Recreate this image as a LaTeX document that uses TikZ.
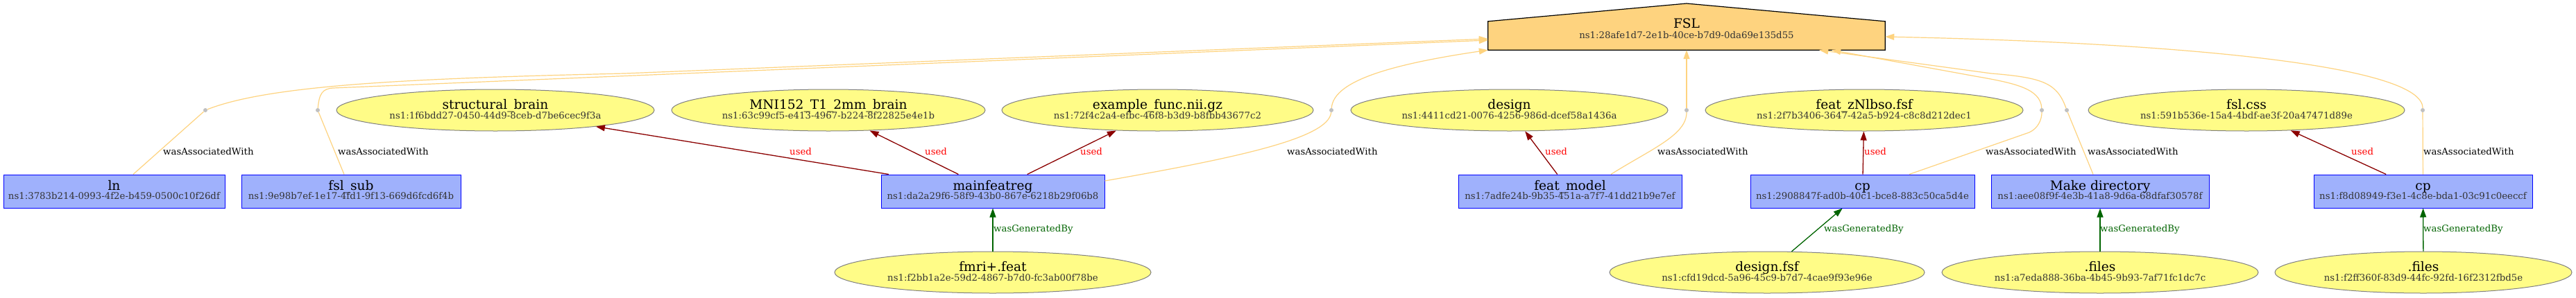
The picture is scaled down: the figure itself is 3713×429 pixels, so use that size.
\documentclass[tikz,border=0pt]{standalone}
\usepackage{fontspec}
\setmainfont{DejaVu Serif}
\usetikzlibrary{arrows.meta,calc,shapes.geometric}
\definecolor{agentfill}{HTML}{FED37F}
\definecolor{actfill}{HTML}{9FB1FC}
\definecolor{actline}{HTML}{0000FF}
\definecolor{entfill}{HTML}{FFFC87}
\definecolor{entline}{HTML}{808080}
\definecolor{usedc}{HTML}{8B0000}
\definecolor{usedtext}{HTML}{FF0000}
\definecolor{genc}{HTML}{006400}
\definecolor{assocc}{HTML}{FED37F}
\definecolor{dotc}{HTML}{C0C0C0}
\definecolor{idtext}{HTML}{333333}
\newcommand\mainfs{\fontsize{18.6}{20}\selectfont}
\newcommand\idfs{\fontsize{13.3}{15}\selectfont}
\tikzset{
 entity/.style={ellipse, draw=entline, fill=entfill, line width=1pt, inner sep=0pt, minimum height=60pt},
 activity/.style={rectangle, draw=actline, fill=actfill, line width=1pt, inner sep=0pt, minimum height=48pt},
 mainlab/.style={anchor=base, inner sep=0pt, font=\mainfs},
 idlab/.style={anchor=base, inner sep=0pt, font=\idfs, text=idtext},
 blank/.style={circle, fill=dotc, inner sep=0pt, minimum size=6pt},
 elab/.style={anchor=west, inner sep=0pt, font=\idfs, text height=9.5pt, text depth=2.5pt},
 usedlab/.style={elab, text=usedtext},
 genlab/.style={elab, text=genc},
 tipstyle/.style={-{Triangle[length=13pt,width=9pt]}},
 usededge/.style={draw=usedc, line width=1.3pt, tipstyle},
 genedge/.style={draw=genc, line width=1.3pt, tipstyle},
 assoc/.style={draw=assocc, line width=1.2pt},
 assocarrow/.style={assoc, tipstyle},
}
\newcommand\nodetext[4]{%
 \node[mainlab] (#1-main) at ([yshift=2pt]#1.center) {#2};
 \node[idlab] (#1-id) at ([yshift=-#4]#1.center) {#3};}
\begin{document}
\begin{tikzpicture}[x=1pt,y=-1pt]
\useasboundingbox (0,0) rectangle (3713,429);
\fill[white] (0,0) rectangle (3713,429);

% agent
\node[rectangle, inner sep=0pt, minimum width=572pt, minimum height=41pt] (fsl) at (2431,51.5) {};
\coordinate (apex) at (2431,5);
\filldraw[fill=agentfill, draw=black, line width=1.2pt] (fsl.south west) -- (fsl.north west) -- (apex) -- (fsl.north east) -- (fsl.south east) -- cycle;
\node[mainlab] (fsl-main) at (2431,40) {FSL};
\node[idlab] (fsl-id) at (2431,55.3) {ns1:28afe1d7-2e1b-40ce-b7d9-0da69e135d55};

% activities
\node[activity, minimum width=319pt] (ln) at (164.5,276) {};
\node[activity, minimum width=316pt] (fslsub) at (506,276) {};
\node[activity, minimum width=322pt] (mainfeatreg) at (1431,276) {};
\node[activity, minimum width=322pt] (featmodel) at (2263,276) {};
\node[activity, minimum width=323pt] (cpa) at (2684.5,276) {};
\node[activity, minimum width=314pt] (mkdir) at (3027,276) {};
\node[activity, minimum width=315pt] (cpb) at (3492.5,276) {};
\nodetext{ln}{ln}{ns1:3783b214-0993-4f2e-b459-0500c10f26df}{11.5pt}
\nodetext{fslsub}{fsl\_sub}{ns1:9e98b7ef-1e17-4fd1-9f13-669d6fcd6f4b}{11.5pt}
\nodetext{mainfeatreg}{mainfeatreg}{ns1:da2a29f6-58f9-43b0-867e-6218b29f06b8}{11.5pt}
\nodetext{featmodel}{feat\_model}{ns1:7adfe24b-9b35-451a-a7f7-41dd21b9e7ef}{11.5pt}
\nodetext{cpa}{cp}{ns1:2908847f-ad0b-40c1-bce8-883c50ca5d4e}{11.5pt}
\nodetext{mkdir}{Make directory}{ns1:aee08f9f-4e3b-41a8-9d6a-68dfaf30578f}{11.5pt}
\nodetext{cpb}{cp}{ns1:f8d08949-f3e1-4c8e-bda1-03c91c0eeccf}{11.5pt}

% entities
\node[entity, minimum width=458pt] (structural) at (714,159) {};
\node[entity, minimum width=452pt] (mni) at (1194,159) {};
\node[entity, minimum width=449pt] (examplef) at (1668.5,159) {};
\node[entity, minimum width=457pt] (design) at (2175.5,159) {};
\node[entity, minimum width=458pt] (featz) at (2687,159) {};
\node[entity, minimum width=456pt] (fslcss) at (3238,159) {};
\node[entity, minimum width=456pt] (fmri) at (1431,393) {};
\node[entity, minimum width=454pt] (designfsf) at (2547,393) {};
\node[entity, minimum width=456pt] (filesa) at (3027,393) {};
\node[entity, minimum width=428pt] (filesb) at (3493,393) {};
\nodetext{structural}{structural\_brain}{ns1:1f6bdd27-0450-44d9-8ceb-d7be6cec9f3a}{12pt}
\nodetext{mni}{MNI152\_T1\_2mm\_brain}{ns1:63c99cf5-e413-4967-b224-8f22825e4e1b}{12pt}
\nodetext{examplef}{example\_func.nii.gz}{ns1:72f4c2a4-efbc-46f8-b3d9-b8fbb43677c2}{12pt}
\nodetext{design}{design}{ns1:4411cd21-0076-4256-986d-dcef58a1436a}{12pt}
\nodetext{featz}{feat\_zNlbso.fsf}{ns1:2f7b3406-3647-42a5-b924-c8c8d212dec1}{12pt}
\nodetext{fslcss}{fsl.css}{ns1:591b536e-15a4-4bdf-ae3f-20a47471d89e}{12pt}
\nodetext{fmri}{fmri+.feat}{ns1:f2bb1a2e-59d2-4867-b7d0-fc3ab00f78be}{12pt}
\nodetext{designfsf}{design.fsf}{ns1:cfd19dcd-5a96-45c9-b7d7-4cae9f93e96e}{12pt}
\nodetext{filesa}{.files}{ns1:a7eda888-36ba-4b45-9b93-7af71fc1dc7c}{12pt}
\nodetext{filesb}{.files}{ns1:f2ff360f-83d9-44fc-92fd-16f2312fbd5e}{12pt}

% blank association points
\node[blank] (b1) at (296,159) {};
\node[blank] (b2) at (458,159) {};
\node[blank] (b3) at (1919,159) {};
\node[blank] (b4) at (2431,159) {};
\node[blank] (b5) at (2943,159) {};
\node[blank] (b6) at (2979,159) {};
\node[blank] (b7) at (3492,159) {};

% used
\draw[usededge] (mainfeatreg) -- (structural);
\draw[usededge] (mainfeatreg) -- (mni);
\draw[usededge] (mainfeatreg) -- (examplef);
\draw[usededge] (featmodel) -- (design);
\draw[usededge] (cpa) -- (featz);
\draw[usededge] (cpb) -- (fslcss);

% generated
\draw[genedge] (fmri) -- (mainfeatreg);
\draw[genedge] (designfsf) -- (cpa);
\draw[genedge] (filesa) -- (mkdir);
\draw[genedge] (filesb) -- (cpb);

% associations
\draw[assoc] (ln) -- (b1);
\draw[assocarrow] (b1) .. controls (390,122) and (600,113) .. (900,106) -- ($(fsl.west)+(0,4.5)$);
\draw[assoc] (fslsub) -- (b2);
\draw[assocarrow] (b2) .. controls (460,135) and (465,128) .. (480,127) -- ($(fsl.west)+(0,6.5)$);
\draw[assoc] ([yshift=15pt]mainfeatreg.east) .. controls (1780,228) and (1915,200) .. (b3);
\draw[assocarrow] (b3) .. controls (1922,120) and (1990,95) .. (fsl.south west);
\draw[assoc] ([xshift=59pt]featmodel.north) .. controls (2380,215) and (2431,195) .. (b4);
\draw[assocarrow] (b4) -- (fsl.south);
\draw[assoc] ([xshift=67.5pt]cpa.north) -- (2925,191) .. controls (2938,185) and (2943,172) .. (b5);
\draw[assocarrow] (b5) .. controls (2941,128) and (2905,120) .. (2847,110) -- ($(fsl.south east)+(-77,0)$);
\draw[assoc] (mkdir) -- (b6);
\draw[assocarrow] (b6) .. controls (2965,120) and (2945,112) .. (2870,106) -- ($(fsl.south east)+(-95,0)$);
\draw[assoc] (cpb) -- (b7);
\draw[assocarrow] (b7) .. controls (3492,95) and (3150,62) .. ($(fsl.east)+(0,1.5)$);

% edge labels
\node[elab] (l1) at (235,220) {wasAssociatedWith};
\node[elab] (l2) at (487,220) {wasAssociatedWith};
\node[usedlab] (l3) at (1138,220) {used};
\node[usedlab] (l4) at (1333,220) {used};
\node[usedlab] (l5) at (1557,220) {used};
\node[elab] (l6) at (1855,220) {wasAssociatedWith};
\node[usedlab] (l7) at (2227,220) {used};
\node[elab] (l8) at (2389,220) {wasAssociatedWith};
\node[usedlab] (l9) at (2687,220) {used};
\node[elab] (l10) at (2862,220) {wasAssociatedWith};
\node[elab] (l11) at (3009,220) {wasAssociatedWith};
\node[usedlab] (l12) at (3389,220) {used};
\node[elab] (l13) at (3493,220) {wasAssociatedWith};
\node[genlab] (l14) at (1432,331) {wasGeneratedBy};
\node[genlab] (l15) at (2629,331) {wasGeneratedBy};
\node[genlab] (l16) at (3027,331) {wasGeneratedBy};
\node[genlab] (l17) at (3493,331) {wasGeneratedBy};
\end{tikzpicture}
\end{document}
